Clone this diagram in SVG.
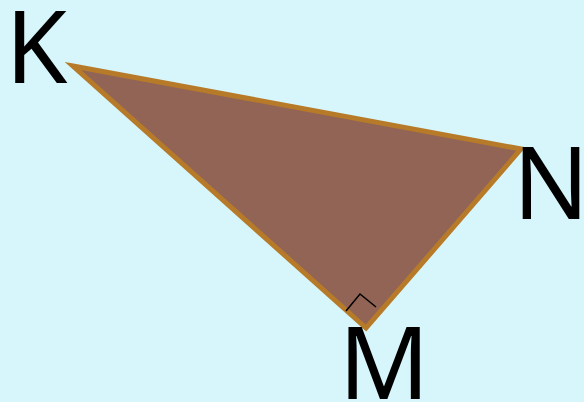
<svg xmlns="http://www.w3.org/2000/svg" width="584" height="402" viewBox="0 0 584 402">
<style>
.lbl{font-family:"Noto Sans","Open Sans",sans-serif;font-size:100px;fill:#000;text-anchor:middle}
</style>
<rect width="584" height="402" fill="#d6f6fc"/>
<g id="triangle">
<polygon points="73,66 521,149 366,328" fill="#926455" stroke="#b67a28" stroke-width="5" stroke-linejoin="miter"/>
<polyline points="346,311 360,294 376,307" fill="none" stroke="#000" stroke-width="1.5"/>
</g>
<g id="K"><text class="lbl" x="36.5" y="83">K</text></g>
<g id="N"><text class="lbl" x="551" y="219">N</text></g>
<g id="M"><text class="lbl" x="384" y="399">M</text></g>
</svg>
